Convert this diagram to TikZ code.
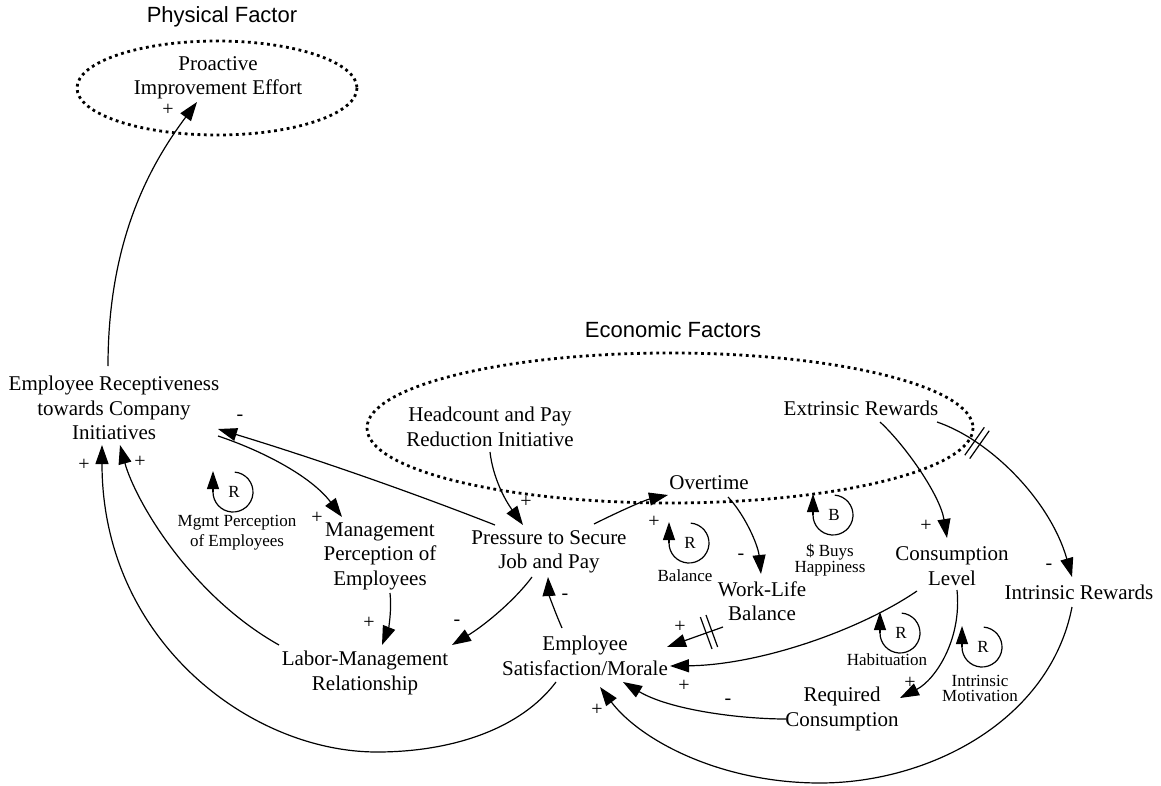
\documentclass[tikz,border=0pt]{standalone}
\usepackage{fontspec}
\setmainfont{Liberation Serif}
\newfontfamily\sansttl{Liberation Sans}
\usetikzlibrary{arrows.meta,calc}
\begin{document}
\begin{tikzpicture}[x=1pt,y=-1pt,
  var/.style={align=center, inner sep=1pt, font=\fontsize{21}{24.5}\selectfont},
  ttl/.style={inner sep=0pt, font=\sansttl\fontsize{22}{26}\selectfont},
  pol/.style={inner sep=0pt, font=\fontsize{20}{22}\selectfont},
  lbl/.style={align=center, inner sep=0pt, font=\fontsize{17}{18}\selectfont},
  conn/.style={line width=1.2pt, -{Triangle[length=19pt,width=13pt]}},
  grp/.style={line width=2.8pt, dash pattern=on 2.8pt off 3.6pt},
  pics/cld/.style={code={
    \draw[line width=1.2pt] (85:20pt) arc[start angle=85,end angle=-180,radius=20pt];
    \draw[line width=1.2pt,-{Triangle[length=18pt,width=12pt]}] (-20pt,0pt) -- (-20pt,21pt);
    \node[lbl] at (1pt,0pt) {#1};}},
  pics/dly/.style={code={
    \draw[line width=1.2pt] (-3pt,-17pt) -- (-3pt,17pt);
    \draw[line width=1.2pt] (3pt,-17pt) -- (3pt,17pt);}}
]
\useasboundingbox (0,0) rectangle (1161,786);

% group ellipses and titles
\draw[grp] (217,88) ellipse [x radius=140, y radius=47];
\draw[grp] (670,428) ellipse [x radius=303, y radius=75];
\node[ttl] (tphys) at (222,17) {Physical Factor};
\node[ttl] (tecon) at (673,330) {Economic Factors};

% variables
\node[var] (pie) at (218,78) {Proactive\\Improvement Effort};
\node[var] (rec) at (114,408) {Employee Receptiveness\\towards Company\\Initiatives};
\node[var] (head) at (490,427) {Headcount and Pay\\Reduction Initiative};
\node[var] (ext) at (861,408) {Extrinsic Rewards};
\node[var] (ot) at (709,483) {Overtime};
\node[var] (pres) at (549,552) {Pressure to Secure\\Job and Pay};
\node[var] (mgmt) at (380,556) {Management\\Perception of\\Employees};
\node[var] (wlb) at (762,601) {Work-Life\\Balance};
\node[var] (cons) at (952,566) {Consumption\\Level};
\node[var] (intr) at (1079,592) {Intrinsic Rewards};
\node[var] (lab) at (365,673) {Labor-Management\\Relationship};
\node[var] (sat) at (585,656) {Employee\\Satisfaction/Morale};
\node[var] (req) at (842,709) {Required\\Consumption};

% connectors
\draw[conn] ($(rec)+(-6,-42)$) .. controls (108,240) and (150,165) .. ($(pie)+(-21,24)$);
\draw[conn] ($(pres)+(-54,-27)$) .. controls (403,489) and (310,457) .. ($(rec)+(104,21)$);
\draw[conn] ($(rec)+(104,28)$) .. controls (260,450) and (310,475) .. ($(mgmt)+(-38,-39)$);
\draw[conn] ($(mgmt)+(10,37)$) .. controls (392,612) and (388,630) .. ($(lab)+(17,-28)$);
\draw[conn] ($(lab)+(-86,-28)$) .. controls (190,595) and (135,500) .. ($(rec)+(6,37)$);
\draw[conn] ($(sat)+(-29,26)$) .. controls (520,730) and (450,752) .. (377,752) .. controls (250,752) and (102,640) .. ($(rec)+(-12,37)$);
\draw[conn] ($(head)+(0,25)$) .. controls (493,478) and (505,500) .. ($(pres)+(-26,-27)$);
\draw[conn] ($(pres)+(45,-28)$) .. controls (620,511) and (645,500) .. ($(ot)+(-41,12)$);
\draw[conn] ($(ot)+(19,14)$) .. controls (745,515) and (758,545) .. ($(wlb)+(-1,-27)$);
\draw[conn] ($(pres)+(-17,25)$) .. controls (515,600) and (485,625) .. ($(lab)+(87,-28)$);
\draw[conn] ($(sat)+(-23,-28)$) .. controls (555,612) and (549,595) .. ($(pres)+(-1,25)$);
\draw[conn] ($(ext)+(19,14)$) .. controls (905,445) and (940,495) .. ($(cons)+(-5,-28)$);
\draw[conn] ($(ext)+(76,14)$) .. controls (990,440) and (1050,500) .. ($(intr)+(-7,-15)$);
\draw[conn] ($(cons)+(-35,25)$) .. controls (860,630) and (760,665) .. ($(sat)+(85,10)$);
\draw[conn] ($(wlb)+(-39,26)$) -- ($(sat)+(82,-9)$);
\draw[conn] ($(cons)+(5,24)$) .. controls (962,640) and (935,680) .. ($(req)+(58,-11)$);
\draw[conn] ($(req)+(-56,10)$) .. controls (740,719) and (670,710) .. ($(sat)+(38,26)$);
\draw[conn] ($(intr)+(-7,15)$) .. controls (1050,720) and (930,783) .. (820,783) .. controls (720,783) and (640,740) .. ($(sat)+(15,31)$);

% delay marks
\pic[rotate=-35] at (977,443) {dly};
\pic[rotate=20] at (709,632) {dly};

% loop markers
\pic at (233,492) {cld=R};
\pic at (689,543) {cld=R};
\pic at (833,515) {cld=B};
\pic at (900,633) {cld=R};
\pic at (982,647) {cld=R};
\node[lbl, font=\fontsize{17}{20}\selectfont] (l1) at (237,533) {Mgmt Perception\\of Employees};
\node[lbl] (l2) at (685,576) {Balance};
\node[lbl, font=\fontsize{17}{16}\selectfont] (l3) at (830,560) {\$ Buys\\Happiness};
\node[lbl] (l4) at (887,660) {Habituation};
\node[lbl, font=\fontsize{17}{15}\selectfont] (l5) at (980,688) {Intrinsic\\Motivation};

% polarities
\node[pol] (p1) at (168,110) {+};
\node[pol] (p2) at (240,418) {-};
\node[pol] (p3) at (317,518) {+};
\node[pol] (p4) at (369,623) {+};
\node[pol] (p5) at (140,462) {+};
\node[pol] (p6) at (84,465) {+};
\node[pol] (p7) at (526,502) {+};
\node[pol] (p8) at (654,522) {+};
\node[pol] (p9) at (741,557) {-};
\node[pol] (p10) at (457,623) {-};
\node[pol] (p11) at (565,597) {-};
\node[pol] (p12) at (926,526) {+};
\node[pol] (p13) at (1049,567) {-};
\node[pol] (p14) at (684,686) {+};
\node[pol] (p15) at (680,627) {+};
\node[pol] (p16) at (910,683) {+};
\node[pol] (p17) at (728,702) {-};
\node[pol] (p18) at (597,710) {+};
\end{tikzpicture}
\end{document}
